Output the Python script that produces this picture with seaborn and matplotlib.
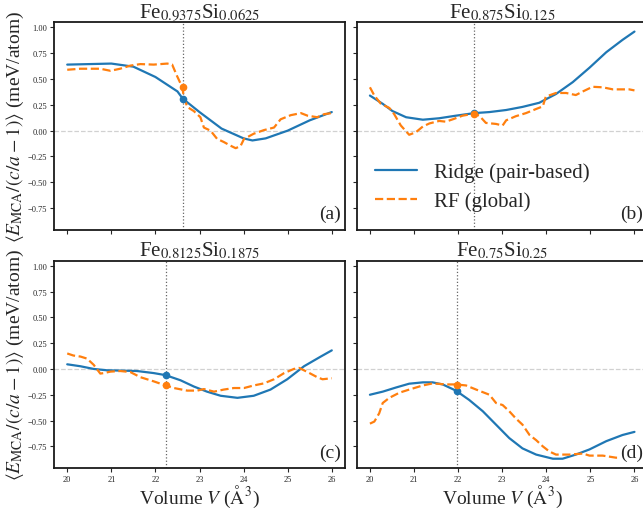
import numpy as np
import pandas as pd
import matplotlib
matplotlib.use("Agg")
import matplotlib.pyplot as plt
import seaborn as sns

# panel titles / vertical reference volumes
titles = [r"Fe$_{0.9375}$Si$_{0.0625}$", r"Fe$_{0.875}$Si$_{0.125}$",
          r"Fe$_{0.8125}$Si$_{0.1875}$", r"Fe$_{0.75}$Si$_{0.25}$"]
letters = ["(a)", "(b)", "(c)", "(d)"]
v0 = [22.62, 22.36, 22.24, 21.97]
ridge_at_v0 = [0.31, 0.17, -0.06, -0.21]
rf_at_v0 = [0.42, 0.165, -0.16, -0.16]

# (a)
ridge_a_x = [20.0, 20.5, 21.0, 21.5, 22.0, 22.5, 22.62, 23.0, 23.5, 24.0, 24.2, 24.5, 25.0, 25.5, 26.0]
ridge_a_y = [0.64, 0.645, 0.65, 0.62, 0.52, 0.38, 0.31, 0.18, 0.02, -0.075, -0.095, -0.075, 0.0, 0.10, 0.18]
rf_a_x = [20.0, 20.30, 20.52, 20.75, 20.98, 21.20, 21.43, 21.66, 21.96, 22.27, 22.38, 22.49, 22.61, 22.64,
          22.72, 22.87, 23.02, 23.10, 23.25, 23.40, 23.55, 23.70, 23.82, 23.93, 24.01, 24.23, 24.46, 24.69,
          24.84, 25.07, 25.30, 25.45, 25.67, 25.83, 26.0]
rf_a_y = [0.59, 0.60, 0.60, 0.60, 0.58, 0.60, 0.63, 0.645, 0.64, 0.65, 0.64, 0.53, 0.42, 0.34,
          0.23, 0.19, 0.13, 0.03, 0.0, -0.08, -0.11, -0.145, -0.17, -0.15, -0.08, -0.03, 0.005, 0.03,
          0.11, 0.15, 0.17, 0.145, 0.13, 0.16, 0.17]

# (b)
ridge_b_x = [20.0, 20.29, 20.51, 20.82, 21.2, 21.57, 21.95, 22.37, 22.71, 23.09, 23.46, 23.84, 24.22,
             24.6, 24.98, 25.36, 25.73, 26.0]
ridge_b_y = [0.34, 0.26, 0.19, 0.13, 0.106, 0.12, 0.145, 0.17, 0.18, 0.20, 0.23, 0.27, 0.355,
             0.47, 0.61, 0.76, 0.88, 0.96]
rf_b_x = [20.0, 20.10, 20.25, 20.44, 20.55, 20.70, 20.89, 21.04, 21.20, 21.35, 21.57, 21.72, 21.88, 22.10,
          22.37, 22.48, 22.63, 22.86, 23.01, 23.09, 23.31, 23.54, 23.77, 23.92, 23.99, 24.22, 24.45, 24.67,
          24.83, 25.05, 25.28, 25.51, 25.73, 25.88, 26.0]
rf_b_y = [0.42, 0.34, 0.26, 0.22, 0.16, 0.05, -0.04, -0.016, 0.04, 0.07, 0.094, 0.087, 0.11, 0.145,
          0.165, 0.145, 0.075, 0.065, 0.05, 0.10, 0.14, 0.17, 0.21, 0.235, 0.33, 0.365, 0.365, 0.345,
          0.38, 0.425, 0.42, 0.40, 0.40, 0.40, 0.39]

# (c)
ridge_c_x = [20.0, 20.3, 20.6, 20.9, 21.2, 21.58, 21.96, 22.23, 22.57, 22.87, 23.17, 23.48, 23.86, 24.23,
             24.61, 24.99, 25.37, 25.75, 26.0]
ridge_c_y = [0.045, 0.026, 0.0, -0.013, -0.016, -0.02, -0.04, -0.06, -0.11, -0.17, -0.22, -0.26, -0.28, -0.26,
             -0.20, -0.10, 0.026, 0.12, 0.18]
rf_c_x = [20.0, 20.14, 20.30, 20.45, 20.60, 20.75, 20.83, 20.98, 21.20, 21.43, 21.66, 21.96, 22.23, 22.42,
          22.72, 22.95, 23.10, 23.33, 23.55, 23.78, 24.01, 24.23, 24.46, 24.69, 24.92, 25.14, 25.26, 25.45,
          25.67, 25.79, 26.0]
rf_c_y = [0.15, 0.13, 0.12, 0.10, 0.04, -0.045, -0.04, -0.026, -0.02, -0.03, -0.08, -0.12, -0.16, -0.185,
          -0.21, -0.21, -0.195, -0.22, -0.20, -0.185, -0.185, -0.16, -0.14, -0.10, -0.04, 0.0, 0.01, -0.03,
          -0.08, -0.10, -0.09]

# (d)
ridge_d_x = [20.0, 20.29, 20.59, 20.89, 21.2, 21.42, 21.65, 21.95, 22.25, 22.56, 22.86, 23.16, 23.46, 23.77,
             24.15, 24.37, 24.67, 24.98, 25.36, 25.73, 26.0]
ridge_d_y = [-0.25, -0.22, -0.18, -0.143, -0.13, -0.13, -0.15, -0.21, -0.30, -0.41, -0.54, -0.67, -0.77, -0.83,
             -0.87, -0.87, -0.83, -0.78, -0.70, -0.64, -0.61]
rf_d_x = [20.0, 20.1, 20.21, 20.29, 20.44, 20.67, 20.89, 21.2, 21.42, 21.72, 21.95, 22.18, 22.41, 22.71,
          22.86, 23.01, 23.16, 23.31, 23.46, 23.62, 23.77, 23.92, 24.07, 24.22, 24.52, 24.83, 24.98, 25.28,
          25.58, 25.88, 26.0]
rf_d_y = [-0.53, -0.51, -0.43, -0.33, -0.28, -0.23, -0.20, -0.16, -0.14, -0.15, -0.15, -0.16, -0.20, -0.25,
          -0.33, -0.35, -0.41, -0.48, -0.54, -0.64, -0.69, -0.75, -0.80, -0.83, -0.83, -0.82, -0.84, -0.84,
          -0.86, -0.86, -0.86]

ridge = [(ridge_a_x, ridge_a_y), (ridge_b_x, ridge_b_y), (ridge_c_x, ridge_c_y), (ridge_d_x, ridge_d_y)]
rf = [(rf_a_x, rf_a_y), (rf_b_x, rf_b_y), (rf_c_x, rf_c_y), (rf_d_x, rf_d_y)]

sns.set_style("ticks")
plt.rcParams["font.family"] = ["Liberation Serif", "DejaVu Serif"]
plt.rcParams["mathtext.fontset"] = "stix"

fig = plt.figure(figsize=(6.43, 5.10), dpi=100)
W, H = 291 / 643, 207.4 / 510
lefts = [54 / 643, 356.7 / 643]
bottoms = [1 - 230.7 / 510, 1 - 469 / 510]
axes = []
for r in range(2):
    for c in range(2):
        axes.append(fig.add_axes([lefts[c], bottoms[r], W, H]))

for i, ax in enumerate(axes):
    ax.axhline(0, color="0.82", lw=0.9, ls="--", zorder=0)
    ax.axvline(v0[i], color="0.4", lw=0.9, ls=":", zorder=1)
    d1 = pd.DataFrame({"V": ridge[i][0], "E": ridge[i][1]})
    d2 = pd.DataFrame({"V": rf[i][0], "E": rf[i][1]})
    sns.lineplot(data=d1, x="V", y="E", ax=ax, color="#1f77b4", lw=1.6, label="Ridge (pair-based)")
    sns.lineplot(data=d2, x="V", y="E", ax=ax, color="#ff7f0e", lw=1.6, ls="--", label="RF (global)")
    ax.plot([v0[i]], [ridge_at_v0[i]], "o", color="#1f77b4", ms=4.5, zorder=4)
    ax.plot([v0[i]], [rf_at_v0[i]], "o", color="#ff7f0e", ms=4.5, zorder=5)
    ax.set_xlim(19.7, 26.3)
    ax.set_ylim(-0.96, 1.05)
    ax.set_xticks(range(20, 27))
    ax.set_yticks([-0.75, -0.5, -0.25, 0.0, 0.25, 0.5, 0.75, 1.0])
    ax.tick_params(labelsize=6, length=3, width=0.8, pad=2)
    for s in ax.spines.values():
        s.set_linewidth(1.3)
        s.set_color("0.1")
    ax.set_title(titles[i], fontsize=15, pad=3)
    ax.text(0.985, 0.035, letters[i], transform=ax.transAxes, ha="right", va="bottom", fontsize=14,
            bbox=dict(facecolor="white", edgecolor="none", pad=0.5))
    ax.set_xlabel("")
    ax.set_ylabel("")
    if i < 2:
        ax.set_xticklabels([])
    else:
        ax.set_xticklabels([str(v) for v in range(20, 27)])
        ax.set_xlabel(r"Volume $V$ ($\mathrm{\AA}^3$)", fontsize=14, labelpad=0)
    if i % 2 == 1:
        ax.set_yticklabels([])
    else:
        ax.set_yticklabels(["\u22120.75", "\u22120.50", "\u22120.25", "0.00", "0.25", "0.50", "0.75", "1.00"])
        ax.set_ylabel(r"$\langle E_{\mathrm{MCA}}/(c/a-1)\rangle$ (meV/atom)", fontsize=14, labelpad=1)
    if i == 1:
        ax.legend(loc="lower left", bbox_to_anchor=(0.0, 0.0), frameon=False, fontsize=15,
                  handlelength=2.0, labelspacing=0.45)
    else:
        ax.get_legend().remove()

fig.savefig("out.png", dpi=100)
